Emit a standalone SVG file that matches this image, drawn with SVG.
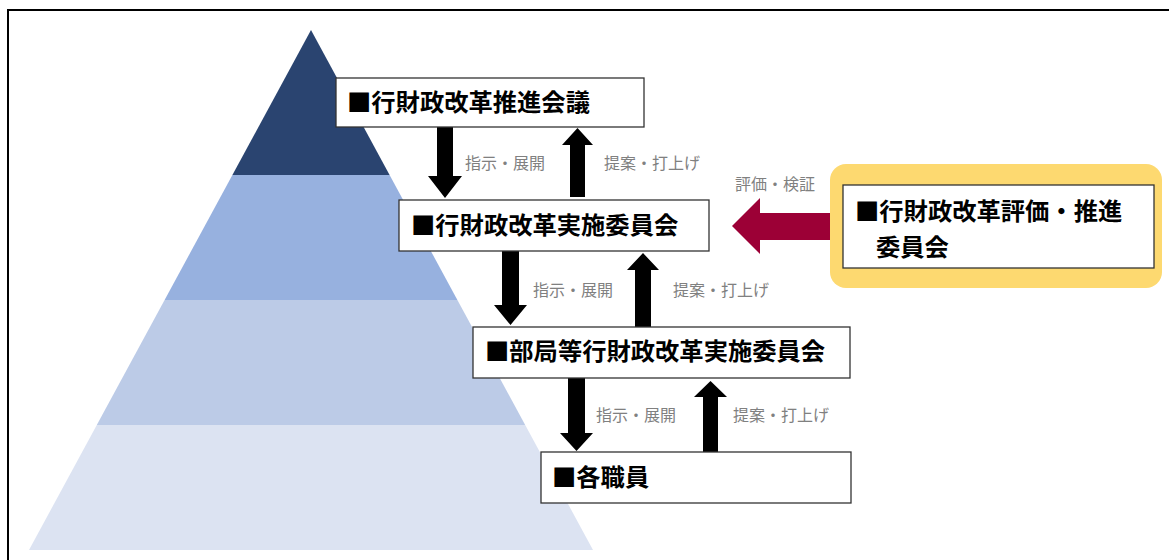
<svg xmlns="http://www.w3.org/2000/svg" width="1169" height="560" viewBox="0 0 1169 560">
  <style>
    .box { fill: #ffffff; stroke: #333333; stroke-width: 1.3; }
    .btxt { font-family: "Noto Sans CJK JP", "Noto Sans CJK SC", sans-serif; font-weight: 700; font-size: 24.3px; fill: #000000; }
    .lbl { font-family: "Noto Sans CJK JP", "Noto Sans CJK SC", sans-serif; font-size: 16px; fill: #808080; }
    .arr { fill: #000000; }
  </style>
  <rect x="0" y="0" width="1169" height="560" fill="#ffffff"/>
  <!-- frame -->
  <path d="M8 562 L8 10 L1171 10" fill="none" stroke="#000000" stroke-width="2"/>

  <!-- pyramid -->
  <g id="pyramid">
    <polygon points="311,30 389.6,175 232.4,175" fill="#2a4470"/>
    <polygon points="389.6,175 457.4,300 164.6,300 232.4,175" fill="#97b1df"/>
    <polygon points="457.4,300 525.2,425 96.8,425 164.6,300" fill="#bccbe7"/>
    <polygon points="525.2,425 593,550 29,550 96.8,425" fill="#dce3f2"/>
  </g>

  <!-- connectors -->
  <g id="connectors">
    <!-- level 1 -->
    <polygon class="arr" points="437,127 453,127 453,176 462,176 445,198 428,176 437,176"/>
    <polygon class="arr" points="570,197 585,197 585,145 593,145 577.5,128 562,145 570,145"/>
    <!-- level 2 -->
    <polygon class="arr" points="502,251 519,251 519,305 527,305 510.5,325 494,305 502,305"/>
    <polygon class="arr" points="635,327 651,327 651,270 659,270 643,253 627,270 635,270"/>
    <!-- level 3 -->
    <polygon class="arr" points="568,378 585,378 585,433 593,433 576.5,451 560,433 568,433"/>
    <polygon class="arr" points="703,452 718,452 718,397 727,397 710.5,381 694,397 703,397"/>
    <!-- evaluation arrow -->
    <polygon points="843,213 760,213 760,198 732,226 760,254 760,240 843,240" fill="#9c0036"/>
    <text class="lbl" x="465" y="169">指示・展開</text>
    <text class="lbl" x="604" y="169">提案・打上げ</text>
    <text class="lbl" x="533" y="296">指示・展開</text>
    <text class="lbl" x="673" y="296">提案・打上げ</text>
    <text class="lbl" x="596" y="421">指示・展開</text>
    <text class="lbl" x="733" y="421">提案・打上げ</text>
    <text class="lbl" x="735" y="190">評価・検証</text>
  </g>

  <g id="node-suishin-kaigi">
    <rect class="box" x="336" y="78" width="308" height="49"/>
    <text class="btxt" x="347" y="111">■行財政改革推進会議</text>
  </g>

  <g id="node-jisshi-iinkai">
    <rect class="box" x="399" y="200" width="310" height="51"/>
    <text class="btxt" x="411" y="234">■行財政改革実施委員会</text>
  </g>

  <g id="node-bukyoku">
    <rect class="box" x="473" y="327" width="377" height="51"/>
    <text class="btxt" x="485" y="360">■部局等行財政改革実施委員会</text>
  </g>

  <g id="node-shokuin">
    <rect class="box" x="541" y="452" width="310" height="51"/>
    <text class="btxt" x="552" y="486">■各職員</text>
  </g>

  <g id="node-hyoka">
    <rect x="830" y="164" width="332" height="124" rx="16" ry="16" fill="#fdd970"/>
    <rect class="box" x="843" y="185" width="311" height="83"/>
    <text class="btxt" x="855" y="220">■行財政改革評価・推進</text>
    <text class="btxt" x="876" y="256">委員会</text>
  </g>
</svg>
